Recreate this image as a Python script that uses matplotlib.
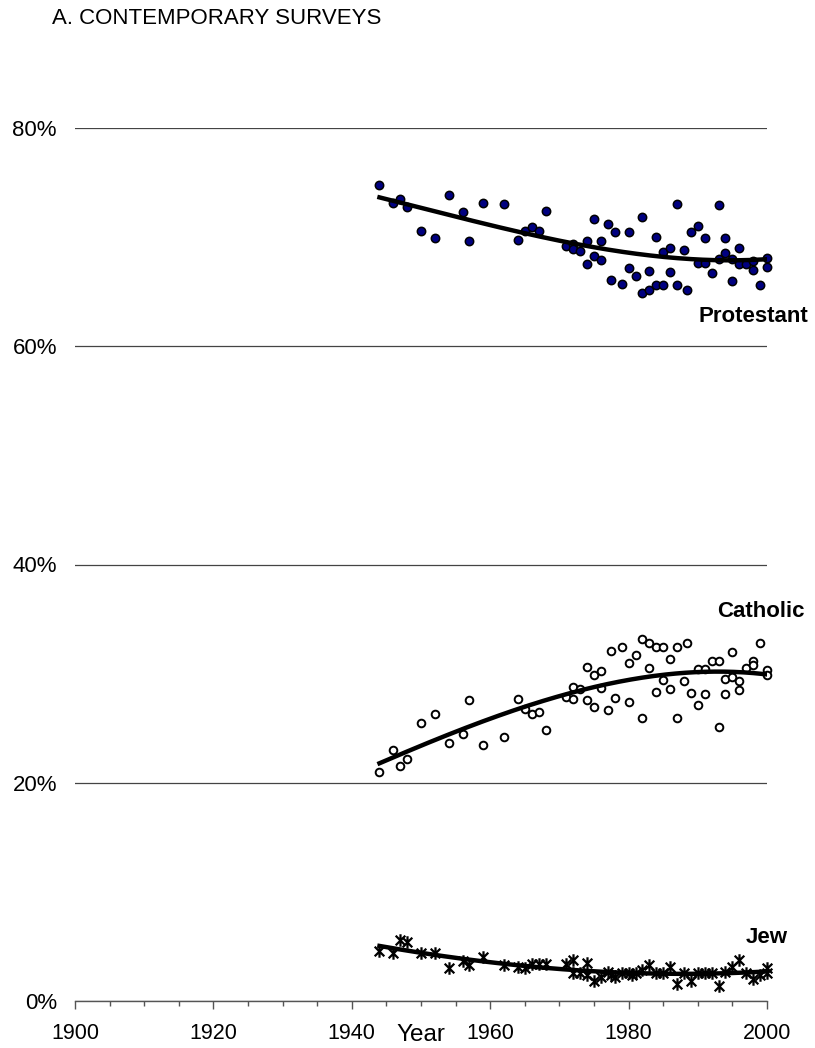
import matplotlib
matplotlib.use("Agg")
import matplotlib.pyplot as plt
import numpy as np
from matplotlib.path import Path
from matplotlib.ticker import FuncFormatter, MultipleLocator

plt.rcParams["font.family"] = ["Liberation Sans", "DejaVu Sans"]

# survey year and share of population (%)
prot_years = [1944, 1946, 1947, 1948, 1950, 1952, 1954, 1956, 1957, 1959, 1962, 1964, 1965,
              1966, 1967, 1968, 1971, 1972, 1972, 1973, 1974, 1974, 1975, 1975, 1976, 1976,
              1977, 1977.5, 1978, 1979, 1980, 1980, 1981, 1982, 1982, 1983, 1983, 1984, 1984,
              1985, 1985, 1986, 1986, 1987, 1987, 1988, 1988.5, 1989, 1990, 1990, 1991, 1991,
              1992, 1993, 1993, 1994, 1994, 1995, 1995, 1996, 1996, 1997, 1998, 1998, 1999,
              2000, 2000]
prot_share = [74.8, 73.1, 73.5, 72.8, 70.6, 69.9, 73.9, 72.3, 69.6, 73.1, 73.0, 69.7, 70.6,
              70.9, 70.6, 72.4, 69.2, 69.4, 68.9, 68.7, 69.6, 67.5, 71.7, 68.3, 69.6, 67.9,
              71.2, 66.1, 70.5, 65.7, 70.5, 67.2, 66.4, 71.8, 64.9, 65.2, 66.9, 70.0, 65.6,
              68.6, 65.6, 69.0, 66.8, 73.0, 65.6, 68.8, 65.2, 70.5, 71.0, 67.6, 69.9, 67.6,
              66.7, 72.9, 68.0, 69.9, 68.5, 68.0, 66.0, 69.0, 67.5, 67.5, 67.8, 67.0, 65.6,
              68.1, 67.3]

cath_years = [1944, 1946, 1947, 1948, 1950, 1952, 1954, 1956, 1957, 1959, 1962, 1964, 1965,
              1966, 1967, 1968, 1971, 1972, 1972, 1973, 1974, 1974, 1975, 1975, 1976, 1976,
              1977, 1977.5, 1978, 1979, 1980, 1980, 1981, 1982, 1982, 1983, 1983, 1984, 1984,
              1985, 1985, 1986, 1986, 1987, 1987, 1988, 1988.5, 1989, 1990, 1990, 1991, 1991,
              1992, 1993, 1993, 1994, 1994, 1995, 1995, 1996, 1996, 1997, 1998, 1998, 1999,
              2000, 2000]
cath_share = [21.0, 23.0, 21.5, 22.2, 25.5, 26.3, 23.6, 24.5, 27.6, 23.5, 24.2, 27.7, 26.8,
              26.3, 26.5, 24.8, 27.9, 28.8, 27.7, 28.6, 30.6, 27.6, 29.9, 26.9, 30.2, 28.7,
              26.7, 32.1, 27.8, 32.4, 31.0, 27.4, 31.7, 33.2, 25.9, 32.8, 30.5, 32.4, 28.3,
              32.4, 29.4, 31.3, 28.6, 32.4, 25.9, 29.3, 32.8, 28.2, 30.4, 27.1, 30.4, 28.1,
              31.2, 31.2, 25.1, 29.5, 28.1, 32.0, 29.7, 29.3, 28.5, 30.5, 31.2, 30.8, 32.8,
              30.3, 29.9]

jew_years = [1944, 1946, 1947, 1948, 1950, 1952, 1954, 1956, 1957, 1959, 1962, 1964, 1965,
             1966, 1967, 1968, 1971, 1972, 1972, 1973, 1974, 1974, 1975, 1976, 1977, 1977.5,
             1978, 1979, 1980, 1980.5, 1981, 1982, 1983, 1984, 1985, 1986, 1987, 1988, 1989,
             1990, 1991, 1992, 1993, 1994, 1995, 1996, 1997, 1998, 1999, 2000, 2000]
jew_share = [4.6, 4.4, 5.6, 5.4, 4.4, 4.4, 3.0, 3.7, 3.3, 4.0, 3.3, 3.1, 3.0,
             3.4, 3.4, 3.4, 3.4, 3.8, 2.6, 2.6, 3.5, 2.4, 1.8, 2.2, 2.7, 2.4,
             2.2, 2.6, 2.6, 2.4, 2.6, 2.8, 3.3, 2.6, 2.6, 3.1, 1.6, 2.6, 1.8,
             2.6, 2.6, 2.6, 1.4, 2.7, 3.1, 3.8, 2.6, 2.0, 2.4, 3.0, 2.6]

# asterisk marker: an X with a vertical stroke
asterisk = Path([(-1, -1), (1, 1), (-1, 1), (1, -1), (0, -1.3), (0, 1.3)],
                [Path.MOVETO, Path.LINETO] * 3)

fig = plt.figure(figsize=(8.15, 10.48), dpi=100)
ax = fig.add_axes([75 / 815, 1 - 1001 / 1048, 692 / 815, 873 / 1048])


def trend(years, share, deg=3):
    coef = np.polyfit(years, share, deg)
    xs = np.linspace(min(years), max(years), 200)
    return xs, np.polyval(coef, xs)


ax.plot(prot_years, prot_share, "o", ms=6, mfc="#000080", mec="black", mew=1.1,
        clip_on=False, zorder=3)
ax.plot(*trend(prot_years, prot_share), color="black", lw=3.2, zorder=4)

ax.plot(cath_years, cath_share, "o", ms=5.5, mfc="white", mec="black", mew=1.4,
        clip_on=False, zorder=3)
ax.plot(*trend(cath_years, cath_share), color="black", lw=3.2, zorder=4)

ax.plot(jew_years, jew_share, ls="none", marker=asterisk, ms=9, mec="black", mew=1.6,
        clip_on=False, zorder=3)
ax.plot(*trend(jew_years, jew_share), color="black", lw=3.2, zorder=4)

label_font = dict(ha="right", va="center", fontsize=16, fontweight="bold")
ax.text(2005.9, 62.7, "Protestant", **label_font)
ax.text(2005.4, 35.7, "Catholic", **label_font)
ax.text(2003.0, 5.8, "Jew", **label_font)

ax.set_xlim(1900, 2000)
ax.set_ylim(0, 80)
ax.xaxis.set_major_locator(MultipleLocator(20))
ax.xaxis.set_minor_locator(MultipleLocator(5))
ax.yaxis.set_major_locator(MultipleLocator(20))
ax.yaxis.set_major_formatter(FuncFormatter(lambda v, _: f"{v:.0f}%"))

for side in ("top", "right", "left"):
    ax.spines[side].set_visible(False)
ax.spines["bottom"].set_color("#555555")
ax.spines["bottom"].set_linewidth(1.0)
ax.yaxis.grid(True, color="#444444", lw=0.9)
ax.set_axisbelow(True)

ax.tick_params(axis="x", which="major", length=5.5, width=1, color="#555555",
               labelsize=15.5, pad=10)
ax.tick_params(axis="x", which="minor", length=3.5, width=1, color="#555555")
ax.tick_params(axis="y", length=0, labelsize=16, pad=13)

ax.set_xlabel("Year", fontsize=17.5)
ax.xaxis.set_label_coords(0.5, -0.026)
ax.xaxis.label.set_va("top")

fig.text(52 / 815, 1 - 18 / 1048, "A. CONTEMPORARY SURVEYS", ha="left", va="center",
         fontsize=16)

fig.savefig("out.png", dpi=100)
plt.close(fig)
